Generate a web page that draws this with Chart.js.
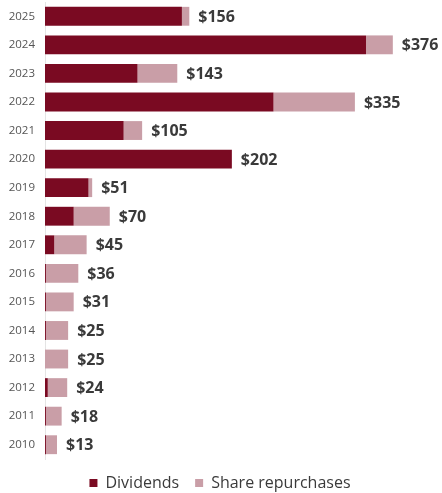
<!DOCTYPE html>
<html>
<head>
<meta charset="utf-8">
<script src="https://cdn.jsdelivr.net/npm/chart.js@4.4.1/dist/chart.umd.min.js"></script>
<style>
  html, body { margin: 0; padding: 0; background: #ffffff; }
  #wrap { width: 442px; height: 493px; position: relative; }
</style>
</head>
<body>
<div id="wrap"><canvas id="c"></canvas></div>
<script>
// Shareholder returns by year (in $ millions)
const years = ['2025', '2024', '2023', '2022', '2021', '2020', '2019', '2018',
               '2017', '2016', '2015', '2014', '2013', '2012', '2011', '2010'];
const dividends = [148, 347, 100, 247, 85, 202, 47, 31, 10, 1, 1, 1, 0, 3, 1, 1];
const repurchases = [8, 29, 43, 88, 20, 0, 4, 39, 35, 35, 30, 24, 25, 21, 17, 12];

const DIV_COLOR = '#7a0a22';
const REP_COLOR = '#c99ea7';
const FONT = '"Open Sans", "Liberation Sans", sans-serif';

// Draws the stacked total at the end of each bar
const totalsPlugin = {
  id: 'totals',
  afterDatasetsDraw(chart) {
    const ctx = chart.ctx;
    const metaTop = chart.getDatasetMeta(1);
    ctx.save();
    ctx.font = 'bold 16px ' + FONT;
    ctx.fillStyle = '#3a3a3a';
    ctx.textAlign = 'left';
    ctx.textBaseline = 'middle';
    metaTop.data.forEach((bar, i) => {
      const total = dividends[i] + repurchases[i];
      ctx.fillText('$' + total, bar.x + 9, bar.y + 1);
    });
    ctx.restore();
  }
};

new Chart(document.getElementById('c'), {
  type: 'bar',
  data: {
    labels: years,
    datasets: [
      { label: 'Dividends', data: dividends, backgroundColor: DIV_COLOR },
      { label: 'Share repurchases', data: repurchases, backgroundColor: REP_COLOR }
    ]
  },
  options: {
    indexAxis: 'y',
    responsive: true,
    maintainAspectRatio: false,
    animation: false,
    layout: { padding: { top: 2, right: 2, left: 0, bottom: -8 } },
    datasets: { bar: { barPercentage: 0.66, categoryPercentage: 1.0 } },
    scales: {
      x: {
        stacked: true,
        min: 0,
        max: 427,
        display: false
      },
      y: {
        stacked: true,
        grid: { display: false, drawTicks: true, tickLength: 10 },
        border: { display: true, color: '#e4e4e4', width: 1 },
        ticks: {
          color: '#555555',
          font: { family: FONT, size: 11.5 },
          padding: 0
        },
        afterFit(scale) {
          scale.width = 45;
          scale.paddingTop = 0;
          scale.paddingBottom = 0;
        }
      }
    },
    plugins: {
      legend: {
        position: 'bottom',
        labels: {
          boxWidth: 8,
          boxHeight: 8,
          color: '#3a3a3a',
          padding: 16,
          font: { family: FONT, size: 16 }
        }
      },
      tooltip: { enabled: false }
    }
  },
  plugins: [totalsPlugin]
});
</script>
</body>
</html>
